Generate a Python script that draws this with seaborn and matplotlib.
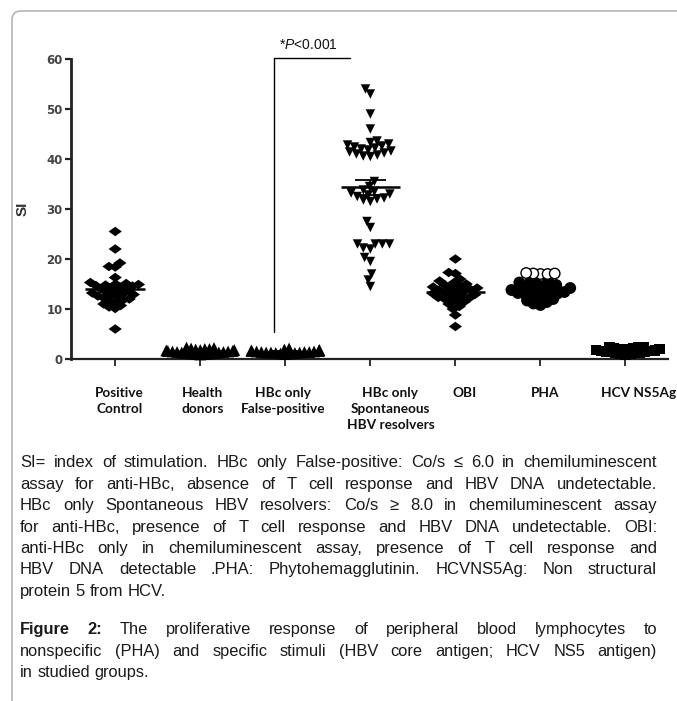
import numpy as np
import pandas as pd
import matplotlib
matplotlib.use("Agg")
import matplotlib.pyplot as plt
import seaborn as sns
from matplotlib import font_manager
from matplotlib.font_manager import FontProperties
from matplotlib.patches import FancyBboxPatch
from matplotlib.transforms import IdentityTransform, ScaledTranslation

# ---------------- data ----------------
categories = ["Positive\nControl", "Health\ndonors", "HBc only\nFalse-positive",
              "HBc only\nSpontaneous\nHBV resolvers", "OBI", "PHA", "HCV NS5Ag"]

positive_control = [25.5, 22.0, 19.2, 18.4, 18.5, 16.3, 15.3, 15.1, 15.0, 14.9, 14.8,
                    14.7, 14.6, 14.4, 14.2, 14.0, 13.8, 13.6, 13.4, 13.2, 13.0, 12.9,
                    12.8, 12.6, 12.4, 12.2, 12.0, 11.8, 11.6, 11.3, 11.0, 10.7, 10.4,
                    10.1, 6.0]
health_donors = [2.3, 2.2, 2.1, 2.0, 1.9, 1.8, 1.7, 1.6, 1.5, 1.5, 1.4, 1.3, 1.3, 1.2,
                 1.1, 1.0, 1.0, 0.9, 1.6, 1.4, 1.2, 2.0, 1.8, 1.1]
false_positive = [2.1, 1.9, 1.8, 1.7, 1.6, 1.5, 1.5, 1.4, 1.4, 1.3, 1.3, 1.2, 1.2,
                  1.1, 1.1, 1.0, 1.6, 1.4, 1.3, 1.7]
spontaneous = [54, 53, 49, 46,
               43.6, 43.3, 43.0, 42.8, 42.6, 42.4, 42.2, 42.0, 41.8, 41.6, 41.4,
               41.2, 41.0, 40.8, 40.6, 40.5,
               35.5, 34.5, 33.8, 33.5, 33.2, 33.0, 32.8, 32.5, 32.2, 32.0, 31.8, 31.5,
               27.5, 26.3, 23, 23, 23, 23, 22.2, 22, 20.3, 19.5, 17, 15.8, 14.5]
obi = [20.0, 17.3, 17.1, 16.0, 15.6, 15.3, 15.0, 14.8, 14.6, 14.4, 14.2, 14.1, 13.9,
       13.8, 13.6, 13.5, 13.3, 13.1, 12.9, 12.7, 12.5, 12.3, 12.2, 12.0, 11.7, 11.4,
       11.0, 10.5, 10.0, 8.8, 6.5]
pha_filled = [15.8, 15.6, 15.3, 15.0, 14.8, 14.6, 14.4, 14.2, 14.0, 13.8, 13.6, 13.4,
              13.2, 13.0, 12.8, 12.6, 12.3, 12.0, 11.7, 11.4, 11.1, 10.8, 13.9, 13.1]
pha_open = [17.0, 17.0, 17.1, 17.1, 17.2]
hcv_ns5ag = [2.4, 2.3, 2.2, 2.1, 2.0, 1.9, 1.8, 1.7, 1.6, 1.5, 1.5, 1.4, 1.3, 1.2,
             1.1, 1.0, 0.9, 2.0, 1.8, 1.6, 2.3, 1.3]

p_text = r"*$\mathit{P}$<0.001"

caption_lines = [
    "SI= index of stimulation. HBc only False-positive: Co/s \u2264 6.0 in chemiluminescent",
    "assay for anti-HBc, absence of T cell response and HBV DNA undetectable.",
    "HBc only Spontaneous HBV resolvers: Co/s \u2265 8.0 in chemiluminescent assay",
    "for anti-HBc, presence of T cell response and HBV DNA undetectable. OBI:",
    "anti-HBc only in chemiluminescent assay, presence of T cell response and",
    "HBV DNA detectable .PHA: Phytohemagglutinin. HCVNS5Ag: Non structural",
    "protein 5 from HCV.",
]
figure_lines = [
    "Figure 2: The proliferative response of peripheral blood lymphocytes to",
    "nonspecific (PHA) and specific stimuli (HBV core antigen; HCV NS5 antigen)",
    "in studied groups.",
]

# ---------------- table ----------------
groups = [
    (categories[0], positive_control, ["filled"] * len(positive_control)),
    (categories[1], health_donors, ["filled"] * len(health_donors)),
    (categories[2], false_positive, ["filled"] * len(false_positive)),
    (categories[3], spontaneous, ["filled"] * len(spontaneous)),
    (categories[4], obi, ["filled"] * len(obi)),
    (categories[5], pha_filled + pha_open, ["filled"] * len(pha_filled) + ["open"] * len(pha_open)),
    (categories[6], hcv_ns5ag, ["filled"] * len(hcv_ns5ag)),
]
rows = []
for g, vals, faces in groups:
    for v, f in zip(vals, faces):
        rows.append((g, float(v), f))
df = pd.DataFrame(rows, columns=["group", "SI", "face"])

# ---------------- style ----------------
sns.set_style("white")
plt.rcParams["font.family"] = ["Liberation Sans", "DejaVu Sans"]
plt.rcParams["mathtext.fontset"] = "custom"
plt.rcParams["mathtext.rm"] = "Liberation Sans"
plt.rcParams["mathtext.it"] = "Liberation Sans:italic"


def has_font(name):
    try:
        font_manager.findfont(name, fallback_to_default=False)
        return True
    except Exception:
        return False


W, H = 677, 701
fig = plt.figure(figsize=(W / 100, H / 100), dpi=100)
fig.patch.set_facecolor("white")
ax = fig.add_axes([71 / W, 1 - 359 / H, (668 - 71) / W, (359 - 59) / H])

wide_diamond = [(-1, 0), (0, 0.72), (1, 0), (0, -0.72), (-1, 0)]
# marker, swarm-packing size, drawn size (GraphPad-style overlapping points)
markers = {
    categories[0]: (wide_diamond, 4.3, 9.5),
    categories[1]: ("^", 3.2, 8.5),
    categories[2]: ("^", 3.3, 8.5),
    categories[3]: ("v", 4.9, 6.8),
    categories[4]: (wide_diamond, 4.6, 9.5),
    categories[5]: ("o", 3.9, 7.5),
    categories[6]: ("s", 3.4, 7.5),
}

ax.set_xlim(-0.52, 6.5)
ax.set_ylim(0, 60)

swarm_colls = []
for g in categories:
    sub = df[df["group"] == g]
    mk, s_pack, s_draw = markers[g]
    n_before = len(ax.collections)
    sns.swarmplot(data=sub, x="group", y="SI", order=categories, color="black",
                  edgecolor="black", linewidth=0.0 if g != categories[5] else 1.0,
                  marker=mk, size=s_pack, ax=ax, clip_on=False, zorder=3,
                  warn_thresh=1)
    for coll in ax.collections[n_before:]:
        if len(coll.get_offsets()) == len(sub):
            if g == categories[5]:
                coll.set_facecolors(["white" if f == "open" else "black" for f in sub["face"]])
            swarm_colls.append((coll, s_draw))

ax.set_xlim(-0.52, 6.5)
ax.set_ylim(0, 60)
fig.canvas.draw()  # swarm positions computed by seaborn
for coll, s_draw in swarm_colls:
    if "draw" in coll.__dict__:
        del coll.draw
    coll.set_sizes(np.full(len(coll.get_offsets()), s_draw ** 2))

# mean +/- SEM
for i, (g, vals, faces) in enumerate(groups):
    v = np.asarray(vals, dtype=float)
    m = v.mean()
    s = v.std(ddof=1) / np.sqrt(len(v))
    ax.hlines(m, i - 0.35, i + 0.35, color="black", lw=1.8, zorder=4)
    ax.hlines([m - s, m + s], i - 0.18, i + 0.18, color="black", lw=1.3, zorder=4)
    ax.vlines(i, m - s, m + s, color="black", lw=1.3, zorder=4)

ax.set_yticks(range(0, 61, 10))
ax.set_xticks(range(len(categories)))
ax.set_xticklabels(categories)
for sp in ["top", "right"]:
    ax.spines[sp].set_visible(False)
ax.spines["left"].set_linewidth(2.0)
ax.spines["bottom"].set_linewidth(1.6)
ax.spines["left"].set_color("#222222")
ax.spines["bottom"].set_color("#222222")

ax.tick_params(axis="y", direction="out", length=4, width=1.6, pad=2,
               labelsize=8.5, labelcolor="#444444", color="#222222", left=True)
ax.tick_params(axis="x", direction="out", length=5, width=1.3, pad=15,
               color="#222222", bottom=True)
for lab in ax.get_yticklabels():
    lab.set_fontfamily("DejaVu Sans")
    lab.set_fontweight("bold")
xfam = "Lato" if has_font("Lato") else "Liberation Sans"
label_shift_px = [4, 2, -2, 20, 9, 5, 13]
for lab, dx in zip(ax.get_xticklabels(), label_shift_px):
    lab.set_fontfamily(xfam)
    lab.set_fontweight("bold")
    lab.set_fontsize(9.8)
    lab.set_linespacing(1.4)
    lab.set_color("#111111")
    lab.set_transform(lab.get_transform() + ScaledTranslation(dx / 100, 0, fig.dpi_scale_trans))

ax.set_xlabel("")
ax.set_ylabel("SI", fontsize=11, fontweight="bold", color="#333333")
ax.yaxis.set_label_coords(-0.07, 0.5)

# significance bracket
ax.plot([1.87, 1.87, 2.76], [5.4, 60.2, 60.2], color="black", lw=1.0,
        clip_on=False, zorder=5)
ax.text(2.27, 62.8, p_text, ha="center", va="center", fontsize=10, color="#111111")

# frame border
fig.add_artist(FancyBboxPatch((12, -60), 760, 60 + H - 11,
                              boxstyle="round,pad=0,rounding_size=9",
                              transform=IdentityTransform(), fill=False,
                              edgecolor="#b5b5b5", lw=1.2))

# caption text (justified)
renderer = fig.canvas.get_renderer()
X0, X1 = 20, 657
CAP_FAMILY = ["Liberation Sans", "DejaVu Sans"]


def text_width(s, size, bold=False):
    fp = FontProperties(family=CAP_FAMILY, size=size, weight="bold" if bold else "normal")
    w, h, d = renderer.get_text_width_height_descent(s, fp, ismath=False)
    return w


def fit_size(lines, target, max_size):
    ref = 10.0
    widest = max(text_width(ln, ref) for ln in lines)
    return min(max_size, ref * target / widest)


def place_line(text, y_base, size, justify, bold_count=0):
    words = text.split(" ")
    widths = [text_width(w, size, bold=(i < bold_count)) for i, w in enumerate(words)]
    sp = text_width("a a", size) - text_width("aa", size)
    if justify and len(words) > 1:
        gap = (X1 - X0 - sum(widths)) / (len(words) - 1)
    else:
        gap = sp
    x = X0
    for i, (w, wd) in enumerate(zip(words, widths)):
        fig.text(x / W, 1 - y_base / H, w, fontsize=size, family=CAP_FAMILY,
                 color="#1a1a1a", fontweight="bold" if i < bold_count else "normal",
                 ha="left", va="baseline")
        x += wd + gap


size1 = fit_size(caption_lines, 630, 12.0)
base1 = [467, 489, 510, 532, 553, 574, 596]
for k, (line, yb) in enumerate(zip(caption_lines, base1)):
    place_line(line, yb, size1, justify=(k < len(caption_lines) - 1))

base2 = [634, 656, 677]
for k, (line, yb) in enumerate(zip(figure_lines, base2)):
    place_line(line, yb, 11.8, justify=(k < len(figure_lines) - 1),
               bold_count=2 if k == 0 else 0)

fig.savefig("out.png", dpi=100)
